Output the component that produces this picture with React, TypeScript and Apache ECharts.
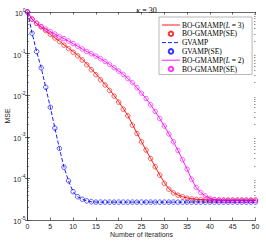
import React, { useEffect, useRef } from "react";
import * as echarts from "echarts";

// MSE values (iteration 0..50)
const boL3Sim = [
  1, 0.676, 0.525, 0.427, 0.347, 0.288, 0.24, 0.2, 0.162, 0.135,
  0.112, 0.0912, 0.0724, 0.0562, 0.0427, 0.0324, 0.0245, 0.0182, 0.0135, 0.00977,
  0.00692, 0.00479, 0.00324, 0.002, 0.00123, 7.59e-4, 4.79e-4, 3.02e-4, 1.91e-4, 1.2e-4,
  7.94e-5, 5.62e-5, 4.57e-5, 3.98e-5, 3.63e-5, 3.39e-5, 3.24e-5, 3.16e-5, 3.1e-5, 3.05e-5,
  3.02e-5, 3.02e-5, 3.02e-5, 3.02e-5, 3.02e-5, 3.02e-5, 3.02e-5, 3.02e-5, 3.02e-5, 3.02e-5,
  3.02e-5,
];
const boL3SE = [
  1, 0.676, 0.537, 0.44, 0.355, 0.29, 0.237, 0.195, 0.16, 0.132,
  0.108, 0.088, 0.07, 0.054, 0.041, 0.031, 0.0235, 0.0176, 0.013, 0.0095,
  0.0068, 0.0046, 0.0032, 0.0019, 0.0012, 7.6e-4, 4.8e-4, 3.0e-4, 1.9e-4, 1.2e-4,
  7.6e-5, 5.5e-5, 4.5e-5, 3.95e-5, 3.6e-5, 3.35e-5, 3.2e-5, 3.12e-5, 3.08e-5, 3.05e-5,
  3.02e-5, 3.02e-5, 3.02e-5, 3.02e-5, 3.02e-5, 3.02e-5, 3.02e-5, 3.02e-5, 3.02e-5, 3.02e-5,
  3.02e-5,
];
const gvampSim = [
  1, 0.309, 0.112, 0.0457, 0.0155, 0.00513, 0.00162, 5.25e-4, 1.86e-4, 8.71e-5,
  4.79e-5, 3.63e-5, 3.16e-5, 2.88e-5, 2.75e-5, 2.69e-5, 2.69e-5, 2.69e-5, 2.69e-5, 2.69e-5,
  2.69e-5, 2.69e-5, 2.69e-5, 2.69e-5, 2.69e-5, 2.69e-5, 2.69e-5, 2.69e-5, 2.69e-5, 2.69e-5,
  2.69e-5, 2.69e-5, 2.69e-5, 2.69e-5, 2.69e-5, 2.69e-5, 2.69e-5, 2.69e-5, 2.69e-5, 2.69e-5,
  2.69e-5, 2.69e-5, 2.69e-5, 2.69e-5, 2.69e-5, 2.69e-5, 2.69e-5, 2.69e-5, 2.69e-5, 2.69e-5,
  2.69e-5,
];
const gvampSE = gvampSim;
const boL2Sim = [
  1, 0.676, 0.537, 0.447, 0.389, 0.339, 0.295, 0.257, 0.229, 0.2,
  0.174, 0.151, 0.129, 0.112, 0.1, 0.0871, 0.0759, 0.0646, 0.055, 0.0457,
  0.038, 0.0316, 0.0251, 0.02, 0.0151, 0.0112, 0.00832, 0.00589, 0.00407, 0.00275,
  0.00182, 0.00117, 7.59e-4, 4.68e-4, 2.82e-4, 1.66e-4, 9.55e-5, 6.03e-5, 4.57e-5, 3.8e-5,
  3.31e-5, 3.09e-5, 3.02e-5, 2.95e-5, 2.95e-5, 2.95e-5, 2.95e-5, 2.95e-5, 2.95e-5, 2.95e-5,
  2.95e-5,
];
const boL2SE = boL2Sim;

const legendText: Record<string, string> = {
  simL3: "{a|BO-GMAMP(}{i|L}{a| = 3)}",
  seL3: "{a|BO-GMAMP(SE)}",
  gv: "{a|GVAMP}",
  gvSE: "{a|GVAMP(SE)}",
  simL2: "{a|BO-GMAMP(}{i|L}{a| = 2)}",
  seL2: "{a|BO-GMAMP(SE)}",
};

const minorTickValues = [
  2e-5, 3e-5, 4e-5, 5e-5, 6e-5, 7e-5, 8e-5, 9e-5,
  2e-4, 3e-4, 4e-4, 5e-4, 6e-4, 7e-4, 8e-4, 9e-4,
  2e-3, 3e-3, 4e-3, 5e-3, 6e-3, 7e-3, 8e-3, 9e-3,
  2e-2, 3e-2, 4e-2, 5e-2, 6e-2, 7e-2, 8e-2, 9e-2,
  0.2, 0.3, 0.4, 0.5, 0.6, 0.7, 0.8, 0.9,
];

const RED = "#ff0000";
const BLUE = "#0000ff";
const MAG = "#ff00ff";
const AX = "#262626";

const toPairs = (arr: number[]) => arr.map((v, i) => [i, v]);

export default function App() {
  const ref = useRef<HTMLDivElement>(null);
  useEffect(() => {
    if (!ref.current) return;
    const chart = echarts.init(ref.current, undefined, { renderer: "svg" });
    const sans = "Liberation Sans";
    const serif = "Liberation Serif";
    const logAxisBase = {
      type: "log" as const,
      logBase: 10,
      min: 1e-5,
      max: 1,
      splitLine: { show: false },
    };
    const sup = (v: number) => {
      const e = Math.round(Math.log10(v));
      return "{b|10}{s|" + e + "}";
    };
    const noSym = { opacity: 0 };
    chart.setOption({
      animation: false,
      backgroundColor: "#fff",
      title: {
        text: "{i|κ}{t| = 30}",
        left: 141.5,
        top: 1,
        textAlign: "center",
        textStyle: {
          fontWeight: "normal",
          rich: {
            i: { fontFamily: serif, fontStyle: "italic", fontWeight: "normal", fontSize: 8, color: "#000" },
            t: { fontFamily: serif, fontWeight: "normal", fontSize: 8, color: "#000" },
          },
        },
      },
      grid: {
        left: 27.5,
        right: 10.5,
        top: 12,
        bottom: 21,
        containLabel: false,
        outerBoundsMode: "none",
      },
      xAxis: [
        {
          type: "value",
          min: 0,
          max: 50,
          interval: 5,
          position: "bottom",
          name: "Number of iterations",
          nameLocation: "middle",
          nameGap: 10.5,
          nameMoveOverlap: false,
          nameTextStyle: { fontFamily: sans, fontSize: 7, color: AX },
          axisLine: { show: true, lineStyle: { color: AX, width: 0.7 } },
          axisTick: { show: true, inside: true, length: 2.5, lineStyle: { color: AX, width: 0.7 } },
          axisLabel: { fontFamily: sans, fontSize: 7, color: AX, margin: 3 },
          splitLine: { show: false },
        },
        {
          type: "value",
          min: 0,
          max: 50,
          interval: 5,
          position: "top",
          axisLine: { show: true, lineStyle: { color: AX, width: 0.7 } },
          axisTick: { show: true, inside: true, length: 2.5, lineStyle: { color: AX, width: 0.7 } },
          axisLabel: { show: false },
          splitLine: { show: false },
        },
      ],
      yAxis: [
        {
          ...logAxisBase,
          position: "left",
          name: "MSE",
          nameLocation: "middle",
          nameGap: 16.5,
          nameMoveOverlap: false,
          nameTextStyle: { fontFamily: sans, fontSize: 7, color: AX },
          axisLine: { show: true, lineStyle: { color: AX, width: 0.7 } },
          axisTick: { show: true, inside: true, length: 2.5, lineStyle: { color: AX, width: 0.7 } },
          axisLabel: {
            margin: 2,
            formatter: sup,
            rich: {
              b: { fontFamily: sans, fontSize: 7, color: AX, lineHeight: 10, verticalAlign: "bottom" },
              s: { fontFamily: sans, fontSize: 5, color: AX, lineHeight: 10, verticalAlign: "top" },
            },
          },
        },
        {
          ...logAxisBase,
          position: "right",
          axisLine: { show: true, lineStyle: { color: AX, width: 0.7 } },
          axisTick: { show: true, inside: true, length: 2.5, lineStyle: { color: AX, width: 0.7 } },
          axisLabel: { show: false },
        },
        {
          ...logAxisBase,
          position: "left",
          axisLine: { show: false },
          axisTick: {
            show: true,
            inside: true,
            length: 1.5,
            customValues: minorTickValues,
            lineStyle: { color: AX, width: 0.5 },
          },
          axisLabel: { show: false },
        },
        {
          ...logAxisBase,
          position: "right",
          axisLine: { show: false },
          axisTick: {
            show: true,
            inside: true,
            length: 1.5,
            customValues: minorTickValues,
            lineStyle: { color: AX, width: 0.5 },
          },
          axisLabel: { show: false },
        },
      ],
      legend: {
        orient: "vertical",
        left: 159,
        top: 17,
        padding: [4, 8, 1.5, 2.5],
        itemGap: 0.8,
        itemWidth: 18,
        itemHeight: 4.5,
        backgroundColor: "#fff",
        borderColor: "#999",
        borderWidth: 0.7,
        lineStyle: { width: 0.9 },
        data: [
          { name: "simL3", itemStyle: noSym },
          { name: "seL3" },
          { name: "gv", itemStyle: noSym },
          { name: "gvSE" },
          { name: "simL2", itemStyle: noSym },
          { name: "seL2" },
        ],
        formatter: (name: string) => legendText[name],
        textStyle: {
          padding: [0, 0, 0, -3],
          lineHeight: 7.5,
          rich: {
            a: { fontFamily: serif, fontSize: 7.5, lineHeight: 7.5, color: "#000" },
            i: { fontFamily: serif, fontSize: 7.5, lineHeight: 7.5, fontStyle: "italic", color: "#000" },
          },
        },
      },
      series: [
        {
          id: "simL3",
          name: "simL3",
          type: "line",
          data: toPairs(boL3Sim),
          showSymbol: false,
          symbol: "none",
          lineStyle: { color: RED, width: 0.9 },
          itemStyle: { color: RED },
          z: 3,
        },
        {
          id: "seL3",
          name: "seL3",
          type: "scatter",
          data: toPairs(boL3SE),
          symbol: "circle",
          symbolSize: 4.5,
          itemStyle: { color: "rgba(0,0,0,0)", borderColor: RED, borderWidth: 0.8 },
          z: 4,
        },
        {
          id: "gv",
          name: "gv",
          type: "line",
          data: toPairs(gvampSim),
          showSymbol: false,
          symbol: "none",
          lineStyle: { color: BLUE, width: 0.9, type: [4, 2] },
          itemStyle: { color: BLUE },
          z: 3,
        },
        {
          id: "gvSE",
          name: "gvSE",
          type: "scatter",
          data: toPairs(gvampSE),
          symbol: "circle",
          symbolSize: 4.5,
          itemStyle: { color: "rgba(0,0,0,0)", borderColor: BLUE, borderWidth: 0.8 },
          z: 4,
        },
        {
          id: "simL2",
          name: "simL2",
          type: "line",
          data: toPairs(boL2Sim),
          showSymbol: false,
          symbol: "none",
          lineStyle: { color: MAG, width: 0.9 },
          itemStyle: { color: MAG },
          z: 3,
        },
        {
          id: "seL2",
          name: "seL2",
          type: "scatter",
          data: toPairs(boL2SE),
          symbol: "circle",
          symbolSize: 4.5,
          itemStyle: { color: "rgba(0,0,0,0)", borderColor: MAG, borderWidth: 0.8 },
          z: 4,
        },
      ],
    });
    return () => chart.dispose();
  }, []);
  return (
    <div
      ref={ref}
      style={{ position: "absolute", left: 0, top: 0, width: 266, height: 241 }}
    />
  );
}
